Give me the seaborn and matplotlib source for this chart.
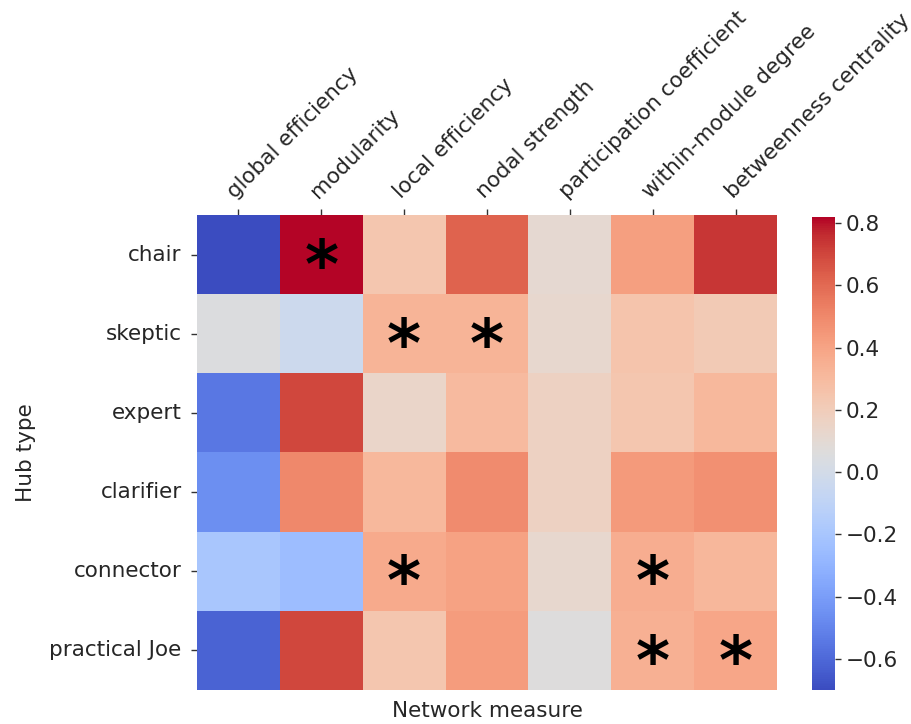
import numpy as np
import pandas as pd
import matplotlib
matplotlib.use("Agg")
import matplotlib.pyplot as plt
import seaborn as sns

hub_types = ["chair", "skeptic", "expert", "clarifier", "connector", "practical Joe"]
measures = ["global efficiency", "modularity", "local efficiency", "nodal strength",
            "participation coefficient", "within-module degree", "betweenness centrality"]

chair = [-0.70, 0.82, 0.24, 0.62, 0.11, 0.42, 0.74]
skeptic = [0.05, -0.03, 0.33, 0.33, 0.12, 0.25, 0.22]
expert = [-0.55, 0.70, 0.14, 0.30, 0.17, 0.24, 0.31]
clarifier = [-0.46, 0.50, 0.31, 0.49, 0.17, 0.44, 0.47]
connector = [-0.20, -0.25, 0.37, 0.41, 0.12, 0.36, 0.32]
practical_joe = [-0.62, 0.70, 0.24, 0.43, 0.06, 0.35, 0.39]

# significance markers (row, column)
sig_rows = ["chair", "skeptic", "skeptic", "connector", "connector", "practical Joe", "practical Joe"]
sig_cols = ["modularity", "local efficiency", "nodal strength", "local efficiency",
            "within-module degree", "within-module degree", "betweenness centrality"]

cbar_ticks = [-0.6, -0.4, -0.2, 0.0, 0.2, 0.4, 0.6, 0.8]

df = pd.DataFrame([chair, skeptic, expert, clarifier, connector, practical_joe],
                  index=hub_types, columns=measures)

sns.set_style("white")
plt.rcParams['font.family'] = ['DejaVu Sans']

FS = 15.5
W, H = 912, 724
fig = plt.figure(figsize=(W / 100, H / 100), dpi=100)
ax = fig.add_axes([197 / W, 1 - 690 / H, 580 / W, 475 / H])
cax = fig.add_axes([812 / W, 1 - 690 / H, 23 / W, 473 / H])

sns.heatmap(df, ax=ax, cbar_ax=cax, cmap="coolwarm", vmin=-0.70, vmax=0.82)

for r, c in zip(sig_rows, sig_cols):
    i = hub_types.index(r)
    j = measures.index(c)
    ax.text(j + 0.5, i + 0.68, "*", ha="center", va="center", fontsize=47,
            fontweight="bold", color="black")

ax.xaxis.tick_top()
ax.xaxis.set_label_position("bottom")
ax.set_xticks(np.arange(len(measures)) + 0.5)
ax.set_xticklabels(measures, rotation=45, ha="left", rotation_mode="anchor", fontsize=FS)
ax.set_yticklabels(hub_types, rotation=0, fontsize=FS)
ax.tick_params(axis="both", length=4, width=1, color="#333333", direction="out")
ax.tick_params(axis="x", top=True, bottom=False, pad=5)
ax.tick_params(axis="y", left=True, pad=7)
ax.set_xlabel("Network measure", fontsize=FS, labelpad=8)
ax.set_ylabel("Hub type", fontsize=FS, labelpad=10)

cax.set_yticks(cbar_ticks)
cax.tick_params(labelsize=FS, length=4, width=1, right=True, color="#333333", pad=4)
cax.set_yticklabels([f"{t:.1f}".replace("-", "\u2212") for t in cbar_ticks])

fig.savefig("out.png", dpi=100)
